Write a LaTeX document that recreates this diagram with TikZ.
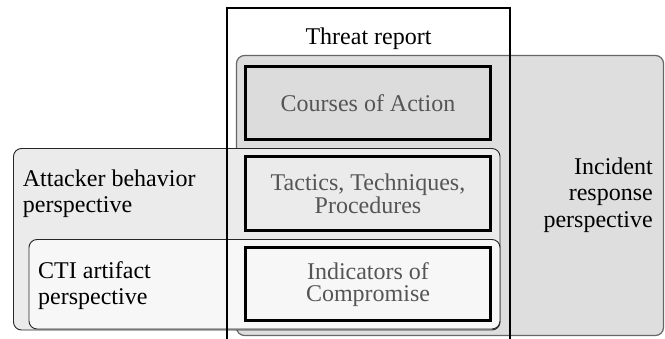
\documentclass[tikz,border=0pt]{standalone}
\usepackage{fontspec}
\setmainfont{Liberation Serif}
\definecolor{incfill}{HTML}{DEDEDE}
\definecolor{attfill}{HTML}{EBEBEB}
\definecolor{ctifill}{HTML}{F7F7F7}
\definecolor{coafill}{HTML}{DCDCDC}
\definecolor{innertext}{HTML}{555555}
\begin{document}
\begin{tikzpicture}[x=1pt,y=-1pt,
  persp/.style={rounded corners=8pt, inner sep=0pt, outer sep=0pt, anchor=north west},
  concept/.style={draw=black, line width=3pt, inner sep=0pt, outer sep=0pt,
    minimum width=244.3pt, align=center, text=innertext,
    font=\fontsize{24}{21.5}\selectfont},
  lbl/.style={inner sep=0pt, font=\fontsize{24}{26.5}\selectfont}]
\useasboundingbox (0,0) rectangle (665,339);
\clip (0,0) rectangle (665,339);
% perspectives
\node[persp, draw=black!60, line width=1.2pt, fill=incfill,
  minimum width=427pt, minimum height=280pt] (incident) at (236.5,55.5) {};
\node[persp, draw=black!85, line width=0.9pt, fill=attfill,
  minimum width=486.5pt, minimum height=181.5pt] (attacker) at (13.5,148.5) {};
\node[persp, draw=black!85, line width=0.9pt, fill=ctifill,
  minimum width=471pt, minimum height=89.5pt] (cti) at (29,239.5) {};
% threat report frame
\coordinate (trbl) at (227,345);
\coordinate (trtl) at (227,8);
\coordinate (trtr) at (510,8);
\coordinate (trbr) at (510,345);
\draw[line width=2pt] (trbl) -- (trtl) -- (trtr) -- (trbr);
\node[lbl, anchor=base] (trlabel) at (368.5,45) {Threat report};
% concepts
\node[concept, fill=coafill, minimum height=72.5pt] (coa) at (368,102.8) {Courses of Action};
\node[concept, fill=attfill, minimum height=74pt] (ttp) at (368,193.5) {Tactics, Techniques,\\Procedures};
\node[concept, fill=ctifill, minimum height=73pt] (ioc) at (368,284.5) {Indicators of\\Compromise};
% labels (base anchor = baseline of last line)
\node[lbl, anchor=base east, align=right] (inclabel) at (653,227.5) {Incident\\response\\perspective};
\node[lbl, anchor=base west, align=left] (attlabel) at (22.7,213) {Attacker behavior\\perspective};
\node[lbl, anchor=base west, align=left] (ctilabel) at (38,305) {CTI artifact\\perspective};
\end{tikzpicture}
\end{document}
